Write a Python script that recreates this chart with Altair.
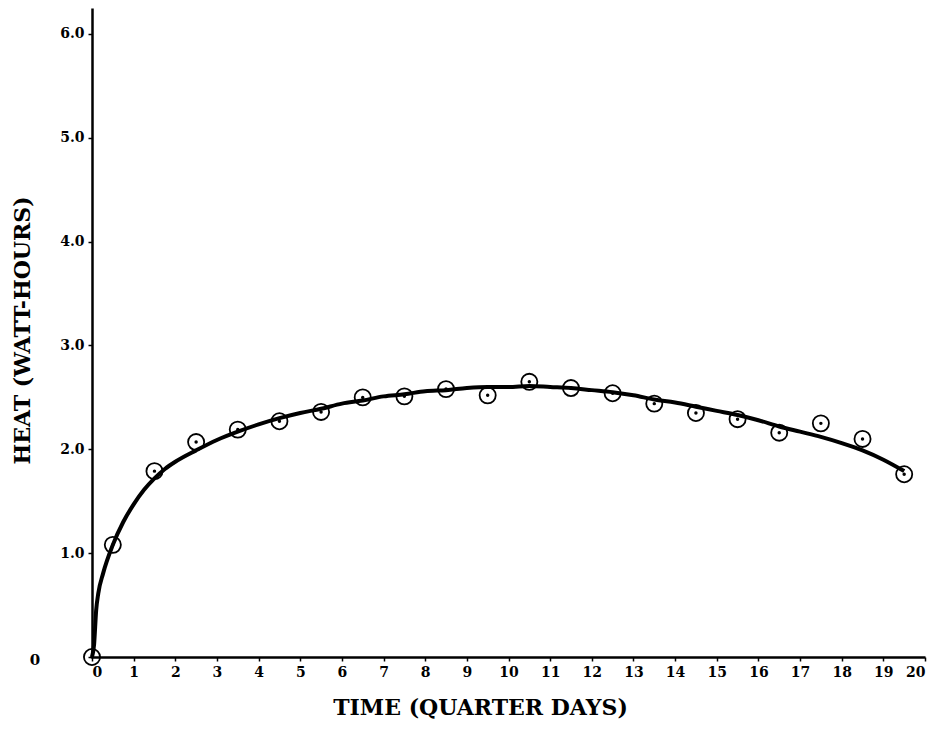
import altair as alt
import pandas as pd

# observed data points (time in quarter days, heat in watt-hours)
obs_time = [0, 0.5, 1.5, 2.5, 3.5, 4.5, 5.5, 6.5, 7.5, 8.5, 9.5, 10.5,
            11.5, 12.5, 13.5, 14.5, 15.5, 16.5, 17.5, 18.5, 19.5]
obs_heat = [0.0, 1.08, 1.79, 2.07, 2.19, 2.27, 2.36, 2.50, 2.51, 2.58, 2.52, 2.65,
            2.59, 2.54, 2.44, 2.35, 2.29, 2.16, 2.25, 2.10, 1.76]

# fitted curve
fit_time = [0, 0.05, 0.1, 0.15, 0.27, 0.5, 0.75, 1.0, 1.25, 1.5, 1.75, 2.0, 2.5,
            3.0, 3.5, 4.0, 4.5, 5.0, 5.5, 6.0, 6.5, 7.0, 7.5, 8.0, 8.5, 9.0, 9.5,
            10.0, 10.5, 11.0, 11.5, 12.0, 12.5, 13.0, 13.5, 14.0, 14.5, 15.0,
            15.5, 16.0, 16.5, 17.0, 17.5, 18.0, 18.5, 19.0, 19.5]
fit_heat = [0.0, 0.12, 0.45, 0.61, 0.81, 1.08, 1.30, 1.47, 1.61, 1.72, 1.81, 1.88,
            1.99, 2.09, 2.17, 2.24, 2.30, 2.35, 2.39, 2.44, 2.47, 2.51, 2.53, 2.56,
            2.57, 2.59, 2.60, 2.60, 2.61, 2.60, 2.59, 2.57, 2.55, 2.52, 2.48, 2.45,
            2.41, 2.37, 2.33, 2.28, 2.22, 2.17, 2.12, 2.06, 1.99, 1.90, 1.79]

x_ticks = list(range(0, 21))
y_ticks = [0, 1, 2, 3, 4, 5, 6]

obs = pd.DataFrame({"t": obs_time, "h": obs_heat})
fit = pd.DataFrame({"t": fit_time, "h": fit_heat})

FONT = "DejaVu Serif"

x_enc = alt.X("t:Q", scale=alt.Scale(domain=[0, 20], nice=False, zero=False),
              axis=alt.Axis(values=x_ticks, title="TIME (QUARTER DAYS)",
                            labelFont=FONT, labelFontWeight="bold", labelFontSize=14,
                            labelColor="black", labelPadding=4,
                            tickSize=4, tickColor="black", tickWidth=1.5,
                            domainColor="black", domainWidth=2.5,
                            titleFont=FONT, titleFontSize=22, titleFontWeight="bold",
                            titleColor="black", titleX=388, titleY=57,
                            titleAlign="center", titleBaseline="alphabetic",
                            grid=False))
y_enc = alt.Y("h:Q", scale=alt.Scale(domain=[0, 6.25], nice=False, zero=True),
              axis=alt.Axis(values=y_ticks, title="HEAT (WATT-HOURS)",
                            labelExpr="datum.value == 0 ? '' : format(datum.value, '.1f')",
                            labelFont=FONT, labelFontWeight="bold", labelFontSize=14,
                            labelColor="black", labelPadding=4,
                            tickSize=4, tickColor="black", tickWidth=1.5,
                            domainColor="black", domainWidth=2.5,
                            titleFont=FONT, titleFontSize=22, titleFontWeight="bold",
                            titleColor="black", titleX=-70, titleY=322,
                            titleAngle=-90, titleAlign="center", titleBaseline="middle",
                            grid=False))

curve = alt.Chart(fit).mark_line(color="black", strokeWidth=4,
                                 interpolate="monotone").encode(x=x_enc, y=y_enc)

rings = alt.Chart(obs).mark_point(shape="circle", filled=False, color="black",
                                  strokeWidth=1.8, size=260, opacity=1).encode(
    x="t:Q", y="h:Q")

dots = alt.Chart(obs).mark_point(shape="circle", filled=True, color="black",
                                 size=12, opacity=1).encode(x="t:Q", y="h:Q")

zero_label = alt.Chart(pd.DataFrame({"h": [0], "txt": ["0"]})).mark_text(
    font=FONT, fontWeight="bold", fontSize=15, color="black",
    align="center", baseline="middle", dx=-57, dy=3).encode(
    x=alt.value(0), y="h:Q", text="txt:N")

chart = alt.layer(curve, rings, dots, zero_label).properties(
    width=833, height=649,
    autosize=alt.AutoSizeParams(type="none"),
    padding={"left": 92, "top": 8, "right": 13, "bottom": 72},
    background="white",
).configure_view(stroke=None)

chart.save("out.html", embed_options={"renderer": "svg", "actions": False})
